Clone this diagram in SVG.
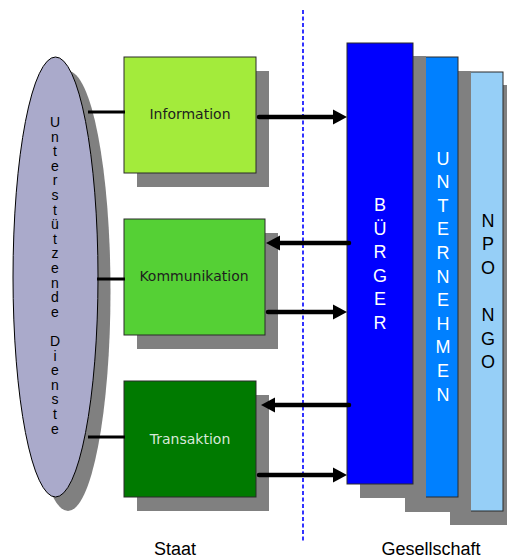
<svg xmlns="http://www.w3.org/2000/svg" width="507" height="559" viewBox="0 0 507 559">
<style>
.shadow{fill:#808080;stroke:none}
.box{stroke:#2a2a2a;stroke-width:1}
.lbl{font-family:"DejaVu Sans",Verdana,sans-serif;font-size:14px;text-anchor:middle}
.vt{font-family:"Liberation Sans",Arial,sans-serif;font-size:18px;text-anchor:middle}
.et{font-family:"Liberation Sans",Arial,sans-serif;font-size:14px;text-anchor:middle;fill:#000}
.cap{font-family:"Liberation Sans",Arial,sans-serif;font-size:18px;text-anchor:middle;fill:#000}
.link{stroke:#000;stroke-width:3;fill:none}
.arrow{stroke:#000;stroke-width:4.5;fill:none;stroke-linecap:round;marker-end:url(#ah)}
</style>
<defs>
<marker id="ah" markerUnits="userSpaceOnUse" markerWidth="14" markerHeight="15" refX="4" refY="7.5" orient="auto" overflow="visible">
<path d="M0,0 L14,7.5 L0,15 Z" fill="#000"/>
</marker>
</defs>
<rect width="507" height="559" fill="#fff"/>

<line x1="303" y1="10" x2="303" y2="542" stroke="#0000ff" stroke-width="1.6" stroke-dasharray="4,2.5"/>

<g id="dienste">
<ellipse class="shadow" cx="68" cy="291" rx="42.5" ry="220"/>
<ellipse cx="55.5" cy="277" rx="42.5" ry="220" fill="#aaaacb" stroke="#000" stroke-width="1"/>
<text class="et"><tspan x="55" y="127">U</tspan><tspan x="55" y="141.6">n</tspan><tspan x="55" y="156.2">t</tspan><tspan x="55" y="170.8">e</tspan><tspan x="55" y="185.4">r</tspan><tspan x="55" y="200">s</tspan><tspan x="55" y="214.6">t</tspan><tspan x="55" y="229.2">ü</tspan><tspan x="55" y="243.8">t</tspan><tspan x="55" y="258.4">z</tspan><tspan x="55" y="273">e</tspan><tspan x="55" y="287.6">n</tspan><tspan x="55" y="302.2">d</tspan><tspan x="55" y="316.8">e</tspan><tspan x="55" y="346">D</tspan><tspan x="55" y="360.6">i</tspan><tspan x="55" y="375.2">e</tspan><tspan x="55" y="389.8">n</tspan><tspan x="55" y="404.4">s</tspan><tspan x="55" y="419">t</tspan><tspan x="55" y="433.6">e</tspan></text>
</g>

<g id="information">
<rect class="shadow" x="137" y="71" width="132" height="116"/>
<rect class="box" x="124" y="57" width="132" height="116" fill="#a3eb3b"/>
<text class="lbl" x="190" y="119" fill="#1e1e1e">Information</text>
</g>

<g id="kommunikation">
<rect class="shadow" x="137" y="233" width="141" height="116"/>
<rect class="box" x="124" y="219" width="141" height="116" fill="#55d035"/>
<text class="lbl" x="194" y="281" fill="#1e1e1e">Kommunikation</text>
</g>

<g id="transaktion">
<rect class="shadow" x="137" y="395" width="132" height="116"/>
<rect class="box" x="124" y="381" width="132" height="116" fill="#007a00"/>
<text class="lbl" x="190" y="444" fill="#d8e8d8">Transaktion</text>
</g>

<g id="npo">
<rect class="shadow" x="450" y="85" width="66" height="440"/>
<rect class="box" x="437" y="72" width="66" height="439" fill="#96cff7"/>
<text class="vt" fill="#000"><tspan x="488" y="226.5">N</tspan><tspan x="488" y="250.1">P</tspan><tspan x="488" y="273.7">O</tspan><tspan x="488" y="321">N</tspan><tspan x="488" y="344.5">G</tspan><tspan x="488" y="368.1">O</tspan></text>
</g>

<g id="unternehmen">
<rect class="shadow" x="405" y="71" width="66" height="441"/>
<rect class="box" x="392" y="57" width="66" height="440" fill="#0080ff"/>
<text class="vt" fill="#fff"><tspan x="443" y="164.5">U</tspan><tspan x="443" y="188.1">N</tspan><tspan x="443" y="211.7">T</tspan><tspan x="443" y="235.3">E</tspan><tspan x="443" y="258.9">R</tspan><tspan x="443" y="282.5">N</tspan><tspan x="443" y="306.1">E</tspan><tspan x="443" y="329.7">H</tspan><tspan x="443" y="353.3">M</tspan><tspan x="443" y="376.9">E</tspan><tspan x="443" y="400.5">N</tspan></text>
</g>

<g id="buerger">
<rect class="shadow" x="360" y="56" width="66" height="442"/>
<rect class="box" x="347" y="43" width="66" height="441" fill="#0000ff"/>
<text class="vt" fill="#fff"><tspan x="380" y="211">B</tspan><tspan x="380" y="234.6">Ü</tspan><tspan x="380" y="258.2">R</tspan><tspan x="380" y="281.8">G</tspan><tspan x="380" y="305.4">E</tspan><tspan x="380" y="329">R</tspan></text>
</g>

<g id="connectors">
<line class="link" x1="88" y1="112" x2="125" y2="112"/>
<line class="link" x1="97" y1="279" x2="125" y2="279"/>
<line class="link" x1="88" y1="437" x2="125" y2="437"/>
<path class="arrow" d="M259,117 H337"/>
<path class="arrow" d="M349,243 H276"/>
<path class="arrow" d="M268,312 H337"/>
<path class="arrow" d="M349,405 H271"/>
<path class="arrow" d="M259,475 H337"/>
</g>

<text class="cap" x="175" y="555">Staat</text>
<text class="cap" x="431" y="555">Gesellschaft</text>
</svg>
